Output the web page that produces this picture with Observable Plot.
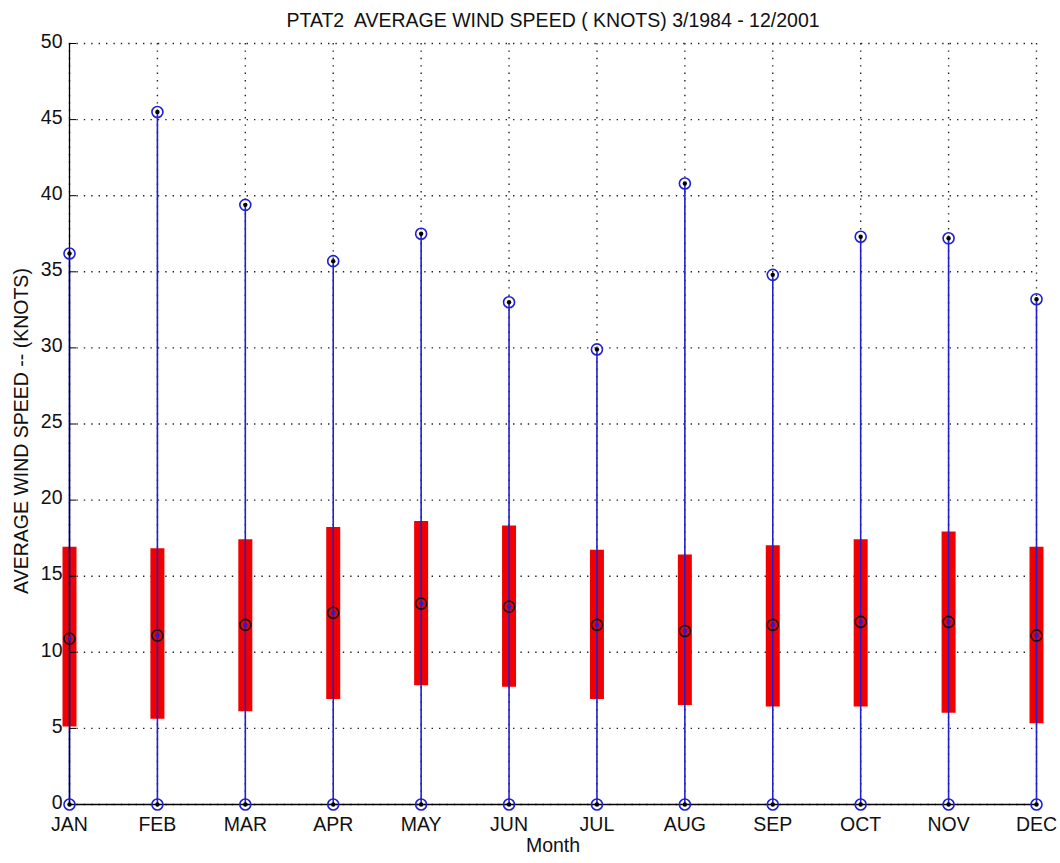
<!DOCTYPE html>
<html>
<head>
<meta charset="utf-8">
<script src="https://cdn.jsdelivr.net/npm/d3@7"></script>
<script src="https://cdn.jsdelivr.net/npm/@observablehq/plot@0.6"></script>
<style>
  html, body { margin: 0; padding: 0; background: #fff; }
</style>
</head>
<body>
<div id="chart"></div>
<script>
const months = ["JAN","FEB","MAR","APR","MAY","JUN","JUL","AUG","SEP","OCT","NOV","DEC"];
const maxV   = [36.2, 45.5, 39.4, 35.7, 37.5, 33.0, 29.9, 40.8, 34.8, 37.3, 37.2, 33.2];
const minV   = [0, 0, 0, 0, 0, 0, 0, 0, 0, 0, 0, 0];
const upperV = [16.9, 16.8, 17.4, 18.2, 18.6, 18.3, 16.7, 16.4, 17.0, 17.4, 17.9, 16.9];
const lowerV = [5.1, 5.6, 6.1, 6.9, 7.8, 7.7, 6.9, 6.5, 6.4, 6.4, 6.0, 5.3];
const meanV  = [10.9, 11.1, 11.8, 12.6, 13.2, 13.0, 11.8, 11.4, 11.8, 12.0, 12.0, 11.1];
const yTicks = [0, 5, 10, 15, 20, 25, 30, 35, 40, 45, 50];
const titleText = "PTAT2  AVERAGE WIND SPEED ( KNOTS) 3/1984 - 12/2001";
const yLabel = "AVERAGE WIND SPEED -- (KNOTS)";
const xLabel = "Month";

const data = months.map((m, i) => ({
  idx: i + 1, month: m, max: maxV[i], min: minV[i],
  upper: upperV[i], lower: lowerV[i], mean: meanV[i]
}));
const monthIdx = months.map((m, i) => i + 1);

const BLUE = "#2020d0";
const RED = "#f00000";
const FS = 19.5;
const GRID = { stroke: "#222", strokeOpacity: 1, strokeWidth: 1.4, strokeDasharray: "1.4,6" };

const chart = Plot.plot({
  width: 1060,
  height: 863,
  marginTop: 43,
  marginBottom: 59,
  marginLeft: 69,
  marginRight: 24,
  style: { fontFamily: "'Liberation Sans', Arial, sans-serif", fontSize: FS + "px", color: "#111", background: "#fff" },
  x: { domain: [1, 12] },
  y: { domain: [0, 50] },
  marks: [
    Plot.gridY(yTicks, GRID),
    Plot.gridX(monthIdx, GRID),
    Plot.ruleX(data, { x: "idx", y1: "lower", y2: "upper", stroke: RED, strokeWidth: 14 }),
    Plot.ruleX(data, { x: "idx", y1: "min", y2: "max", stroke: BLUE, strokeWidth: 1.6 }),
    Plot.ruleX([1], { stroke: "#000", strokeWidth: 1.3 }),
    Plot.ruleY([0], { stroke: "#000", strokeWidth: 1.3 }),
    Plot.axisY(yTicks, { tickSize: -7, tickFormat: () => "", label: null, stroke: "#000" }),
    Plot.axisY(yTicks, { tickSize: 0, tickPadding: 7, dy: -2, label: null, fill: "#111" }),
    Plot.axisX(monthIdx, { tickSize: 0, tickPadding: 13, tickFormat: d => months[d - 1], label: null, fill: "#111" }),
    Plot.dot(data, { x: "idx", y: "max", r: 5.5, stroke: BLUE, strokeWidth: 1.6, fill: "none" }),
    Plot.dot(data, { x: "idx", y: "max", r: 2.2, fill: "#000" }),
    Plot.dot(data, { x: "idx", y: "min", r: 5.5, stroke: BLUE, strokeWidth: 1.6, fill: "none" }),
    Plot.dot(data, { x: "idx", y: "min", r: 2.2, fill: "#000" }),
    Plot.dot(data, { x: "idx", y: "mean", r: 5.5, stroke: "#111", strokeWidth: 1.6, fill: "none" }),
    Plot.dot(data, { x: "idx", y: "mean", r: 2.2, fill: BLUE }),
    Plot.text([titleText], { frameAnchor: "top", dy: -30, fontSize: FS, fill: "#111", textAnchor: "middle" }),
    Plot.text([yLabel], { frameAnchor: "left", dx: -48, dy: 7, rotate: -90, textAnchor: "middle", fontSize: FS, fill: "#111" }),
    Plot.text([xLabel], { frameAnchor: "bottom", dy: 47, fontSize: FS, fill: "#111", textAnchor: "middle" })
  ]
});
document.getElementById("chart").appendChild(chart);
</script>
</body>
</html>
